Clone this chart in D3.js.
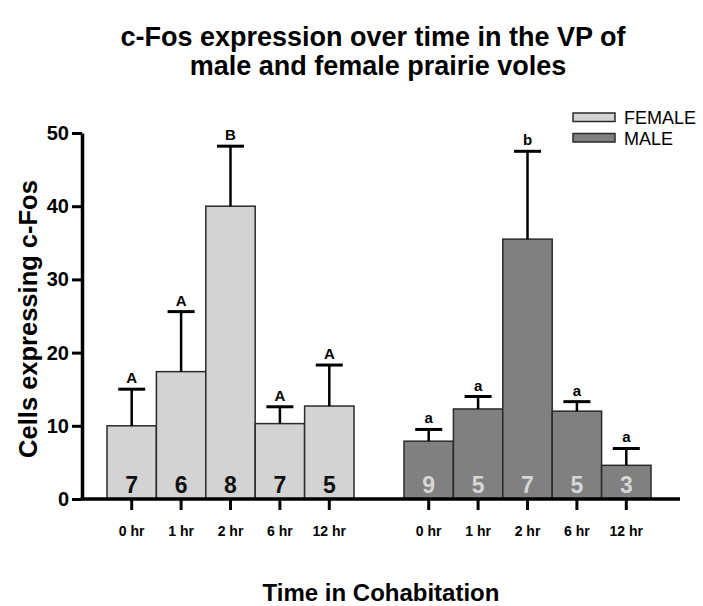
<!DOCTYPE html>
<html>
<head>
<meta charset="utf-8">
<script src="https://cdn.jsdelivr.net/npm/d3@7"></script>
<style>
  html, body { margin: 0; padding: 0; background: #fff; }
  svg text { font-family: "Liberation Sans", Arial, Helvetica, sans-serif; }
</style>
</head>
<body>
<svg id="chart" width="703" height="606"></svg>
<script>
// ---- data ----
const groups = ["FEMALE", "MALE"];
const times = ["0 hr", "1 hr", "2 hr", "6 hr", "12 hr"];
const femaleMeans = [10.0, 17.4, 40.0, 10.3, 12.7];
const femaleErr = [5.0, 8.2, 8.2, 2.3, 5.6];
const femaleN = [7, 6, 8, 7, 5];
const femaleLetters = ["A", "A", "B", "A", "A"];
const maleMeans = [7.9, 12.3, 35.5, 12.0, 4.6];
const maleErr = [1.6, 1.7, 12.0, 1.3, 2.3];
const maleN = [9, 5, 7, 5, 3];
const maleLetters = ["a", "a", "b", "a", "a"];
const yTicks = [0, 10, 20, 30, 40, 50];

const series = [
  { name: "FEMALE", means: femaleMeans, err: femaleErr, n: femaleN, letters: femaleLetters, fill: "#d3d3d3", numColor: "#111" },
  { name: "MALE", means: maleMeans, err: maleErr, n: maleN, letters: maleLetters, fill: "#808080", numColor: "#d6d6d6" }
];

const svg = d3.select("#chart");
const axisX = 82, axisRight = 680;
const y = d3.scaleLinear().domain([0, 50]).range([499, 133]);
const gx = d3.scaleBand().domain(groups).range([107, 651]).paddingInner(50 / 297);
const bx = d3.scaleBand().domain(times).range([0, gx.bandwidth()]).paddingInner(0);

// title
const title = svg.append("text").attr("text-anchor", "middle")
  .style("font-weight", "bold").style("font-size", "27px");
title.append("tspan").attr("x", 373).attr("y", 46).text("c-Fos expression over time in the VP of");
title.append("tspan").attr("x", 378).attr("y", 75).text("male and female prairie voles");

// bars
series.forEach(s => {
  const g = svg.append("g").attr("transform", `translate(${gx(s.name)},0)`);
  times.forEach((t, i) => {
    const x0 = bx(t), w = bx.bandwidth(), cx = x0 + w / 2;
    g.append("rect").attr("x", x0).attr("y", y(s.means[i])).attr("width", w)
      .attr("height", y(0) - y(s.means[i])).attr("fill", s.fill)
      .attr("stroke", "#2a2a2a").attr("stroke-width", 1.5);
    const top = y(s.means[i] + s.err[i]);
    g.append("line").attr("x1", cx).attr("x2", cx).attr("y1", y(s.means[i])).attr("y2", top)
      .attr("stroke", "#000").attr("stroke-width", 2.5);
    g.append("line").attr("x1", cx - 13.5).attr("x2", cx + 13.5).attr("y1", top).attr("y2", top)
      .attr("stroke", "#000").attr("stroke-width", 3);
    g.append("text").attr("x", cx).attr("y", top - 6).attr("text-anchor", "middle")
      .style("font-weight", "bold").style("font-size", "15px").text(s.letters[i]);
    g.append("text").attr("x", cx).attr("y", y(0) - 6).attr("text-anchor", "middle")
      .style("font-weight", "bold").style("font-size", "23px").attr("fill", s.numColor).text(s.n[i]);
    // x tick
    g.append("line").attr("x1", cx).attr("x2", cx).attr("y1", y(0)).attr("y2", y(0) + 11)
      .attr("stroke", "#000").attr("stroke-width", 3);
    g.append("text").attr("x", cx).attr("y", 536).attr("text-anchor", "middle")
      .style("font-weight", "bold").style("font-size", "14px").text(t);
  });
});

// y axis
const yAxis = d3.axisLeft(y).tickValues(yTicks).tickSize(10).tickSizeOuter(0).tickPadding(3);
const ya = svg.append("g").attr("transform", `translate(${axisX},0)`).call(yAxis);
ya.select(".domain").attr("stroke", "#000").attr("stroke-width", 3.5);
ya.selectAll(".tick line").attr("stroke", "#000").attr("stroke-width", 3);
ya.selectAll(".tick text").style("font-weight", "bold").style("font-size", "20px")
  .style("font-family", "'Liberation Sans', Arial, sans-serif").attr("fill", "#000");

// x axis line
svg.append("line").attr("x1", axisX - 1.5).attr("x2", axisRight).attr("y1", y(0)).attr("y2", y(0))
  .attr("stroke", "#000").attr("stroke-width", 3.5);

// axis titles
svg.append("text").attr("transform", `translate(37,319) rotate(-90)`)
  .attr("text-anchor", "middle").style("font-weight", "bold").style("font-size", "25.5px")
  .text("Cells expressing c-Fos");
svg.append("text").attr("x", 381).attr("y", 601).attr("text-anchor", "middle")
  .style("font-weight", "bold").style("font-size", "24px").text("Time in Cohabitation");

// legend
const legend = svg.append("g");
series.forEach((s, i) => {
  legend.append("rect").attr("x", 573).attr("y", 113 + i * 20.5).attr("width", 42).attr("height", 8.5)
    .attr("fill", s.fill).attr("stroke", "#2a2a2a").attr("stroke-width", 1.5);
  legend.append("text").attr("x", 624).attr("y", 123.5 + i * 21).style("font-size", "18px")
    .text(s.name);
});
</script>
</body>
</html>
